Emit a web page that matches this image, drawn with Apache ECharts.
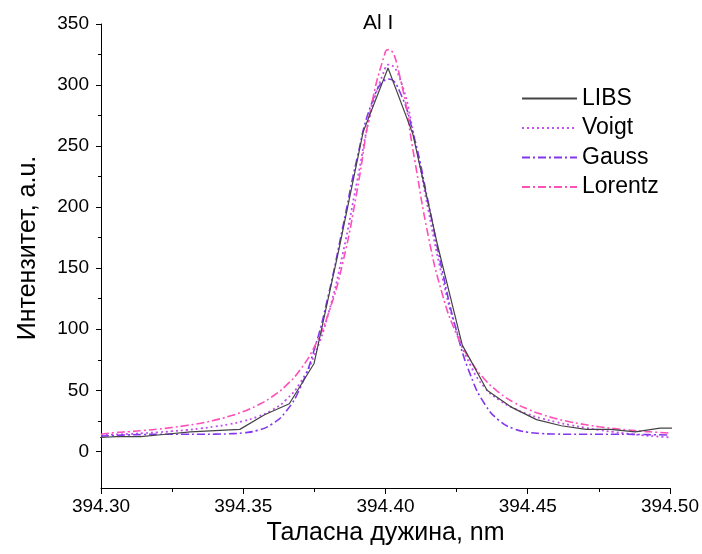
<!DOCTYPE html>
<html>
<head>
<meta charset="utf-8">
<script src="https://cdn.jsdelivr.net/npm/echarts@6/dist/echarts.min.js"></script>
<style>html,body{margin:0;padding:0;background:#fff}#c{width:702px;height:554px}</style>
</head>
<body>
<div id="c"></div>
<script>
// Measured LIBS spectrum
var libsWavelength = [394.2966,394.3053,394.3140,394.3227,394.3314,394.3401,394.3488,394.3575,394.3662,394.3749,394.3836,394.3922,394.4009,394.4096,394.4183,394.4270,394.4357,394.4444,394.4531,394.4618,394.4705,394.4792,394.4878,394.4965,394.5052];
var libsIntensity  = [11,12,12,14,16,17,18,30,39,72,165,262,314,260,169,87,50,36,26,21,18,18,16,19,19];

// Fitted profiles
var fitWavelength = [394.300,394.305,394.310,394.315,394.320,394.325,394.330,394.335,394.340,394.345,394.350,394.355,394.360,394.365,394.370,394.375,394.380,394.385,394.390,394.395,394.400,394.401,394.405,394.410,394.415,394.420,394.425,394.430,394.435,394.440,394.445,394.450,394.455,394.460,394.465,394.470,394.475,394.480,394.485,394.490,394.495,394.500];
var voigt   = [13.3,13.8,14.3,14.9,15.6,16.5,17.5,18.8,20.3,22.2,24.8,28.4,33.6,42.1,56.1,78.7,113.5,161.9,221,279,314.5,316.8,305.7,258.6,198.3,142.4,99,70,52,42,35.5,30.5,27,24,21.5,19.5,17.5,16,14.5,13.3,12.3,11.5];
var gauss   = [12.5,13,13.5,13.8,14,14,14,14,14.1,14.4,15.2,17.2,22.2,32.6,52,83.6,128.6,183.7,239.8,284.1,304.5,305,294.7,257.9,204.4,147.6,98.3,61.8,38.4,25.2,18.6,15.7,14.6,14.2,14,14,14,14,14,13.8,13.6,13.4];
var lorentz = [14,15.4,16.2,17.1,18.2,19.6,21.2,23.1,25.6,28.7,32.6,37.7,44.5,53.8,66.8,85.6,113.3,154.6,213.2,282.6,327.4,329,307.4,242.3,177,128.7,95.9,73.9,58.7,48.1,40.3,34.6,30.2,26.8,24.1,22,20.2,18.8,17.6,16.5,15.7,14.9];

var seriesNames = ['LIBS','Voigt','Gauss','Lorentz'];
var xMinorTicks = [394.325,394.375,394.425,394.475];
var yMajorTicks = [0,50,100,150,200,250,300,350];
var yMinorTicks = [25,75,125,175,225,275,325];

function pairs(xs, ys){ return xs.map(function(x,i){ return [x, ys[i]]; }); }

var FONT = 'Liberation Sans, Arial, sans-serif';
var chart = echarts.init(document.getElementById('c'), null, {renderer:'canvas'});
chart.setOption({
  animation:false,
  backgroundColor:'#fff',
  textStyle:{fontFamily:FONT},
  title:{text:'Al I', left:358, top:8, textStyle:{fontSize:21, fontWeight:'normal', color:'#000', fontFamily:FONT}},
  grid:{left:101, right:30, top:24, bottom:66, containLabel:false},
  legend:{
    orient:'vertical', left:521, top:87, padding:0, itemWidth:55, itemHeight:14, itemGap:6.5,
    data:seriesNames,
    itemStyle:{opacity:0},
    textStyle:{fontSize:23, color:'#000', fontFamily:FONT}
  },
  xAxis:[{
    type:'value', min:394.30, max:394.50, interval:0.05,
    name:'Таласна дужина, nm', nameLocation:'middle', nameGap:30,
    nameTextStyle:{fontSize:25, color:'#000', fontFamily:FONT},
    axisLine:{show:true, onZero:false, lineStyle:{color:'#000', width:1}},
    axisTick:{show:true, length:6, lineStyle:{color:'#000'}},
    axisLabel:{fontSize:19, color:'#000', margin:9, formatter:function(v){return v.toFixed(2);}},
    splitLine:{show:false}
  },{
    type:'value', min:394.30, max:394.50, position:'bottom',
    axisLine:{show:false, onZero:false}, splitLine:{show:false}, axisLabel:{show:false},
    axisTick:{show:true, length:4, lineStyle:{color:'#000'}, customValues:xMinorTicks}
  }],
  yAxis:[{
    type:'value', min:-30, max:350,
    name:'Интензитет, a.u.', nameLocation:'middle', nameGap:60,
    nameTextStyle:{fontSize:25, color:'#000', fontFamily:FONT, padding:[0,0,0,16]},
    axisLine:{show:true, onZero:false, lineStyle:{color:'#000', width:1}},
    axisTick:{show:true, length:5, lineStyle:{color:'#000'}, customValues:yMajorTicks},
    axisLabel:{fontSize:19, color:'#000', margin:12, customValues:yMajorTicks},
    splitLine:{show:false}
  },{
    type:'value', min:-30, max:350, position:'left',
    axisLine:{show:false, onZero:false}, splitLine:{show:false}, axisLabel:{show:false},
    axisTick:{show:true, length:3, lineStyle:{color:'#000'}, customValues:yMinorTicks}
  }],
  series:[
    {name:'LIBS', type:'line', showSymbol:false, symbol:'none', data:pairs(libsWavelength, libsIntensity),
     lineStyle:{color:'#444', width:1.2, type:'solid'}, itemStyle:{color:'#444'}, z:5},
    {name:'Voigt', type:'line', smooth:true, showSymbol:false, symbol:'none', data:pairs(fitWavelength, voigt),
     lineStyle:{color:'#c24ff0', width:1.8, type:[2,3]}, itemStyle:{color:'#c24ff0'}},
    {name:'Gauss', type:'line', smooth:true, showSymbol:false, symbol:'none', data:pairs(fitWavelength, gauss),
     lineStyle:{color:'#8436ee', width:1.6, type:[8,3,2,3]}, itemStyle:{color:'#8436ee'}},
    {name:'Lorentz', type:'line', smooth:true, showSymbol:false, symbol:'none', data:pairs(fitWavelength, lorentz),
     lineStyle:{color:'#ff4fb8', width:1.6, type:[8,3,2,3]}, itemStyle:{color:'#ff4fb8'}}
  ]
});
</script>
</body>
</html>
